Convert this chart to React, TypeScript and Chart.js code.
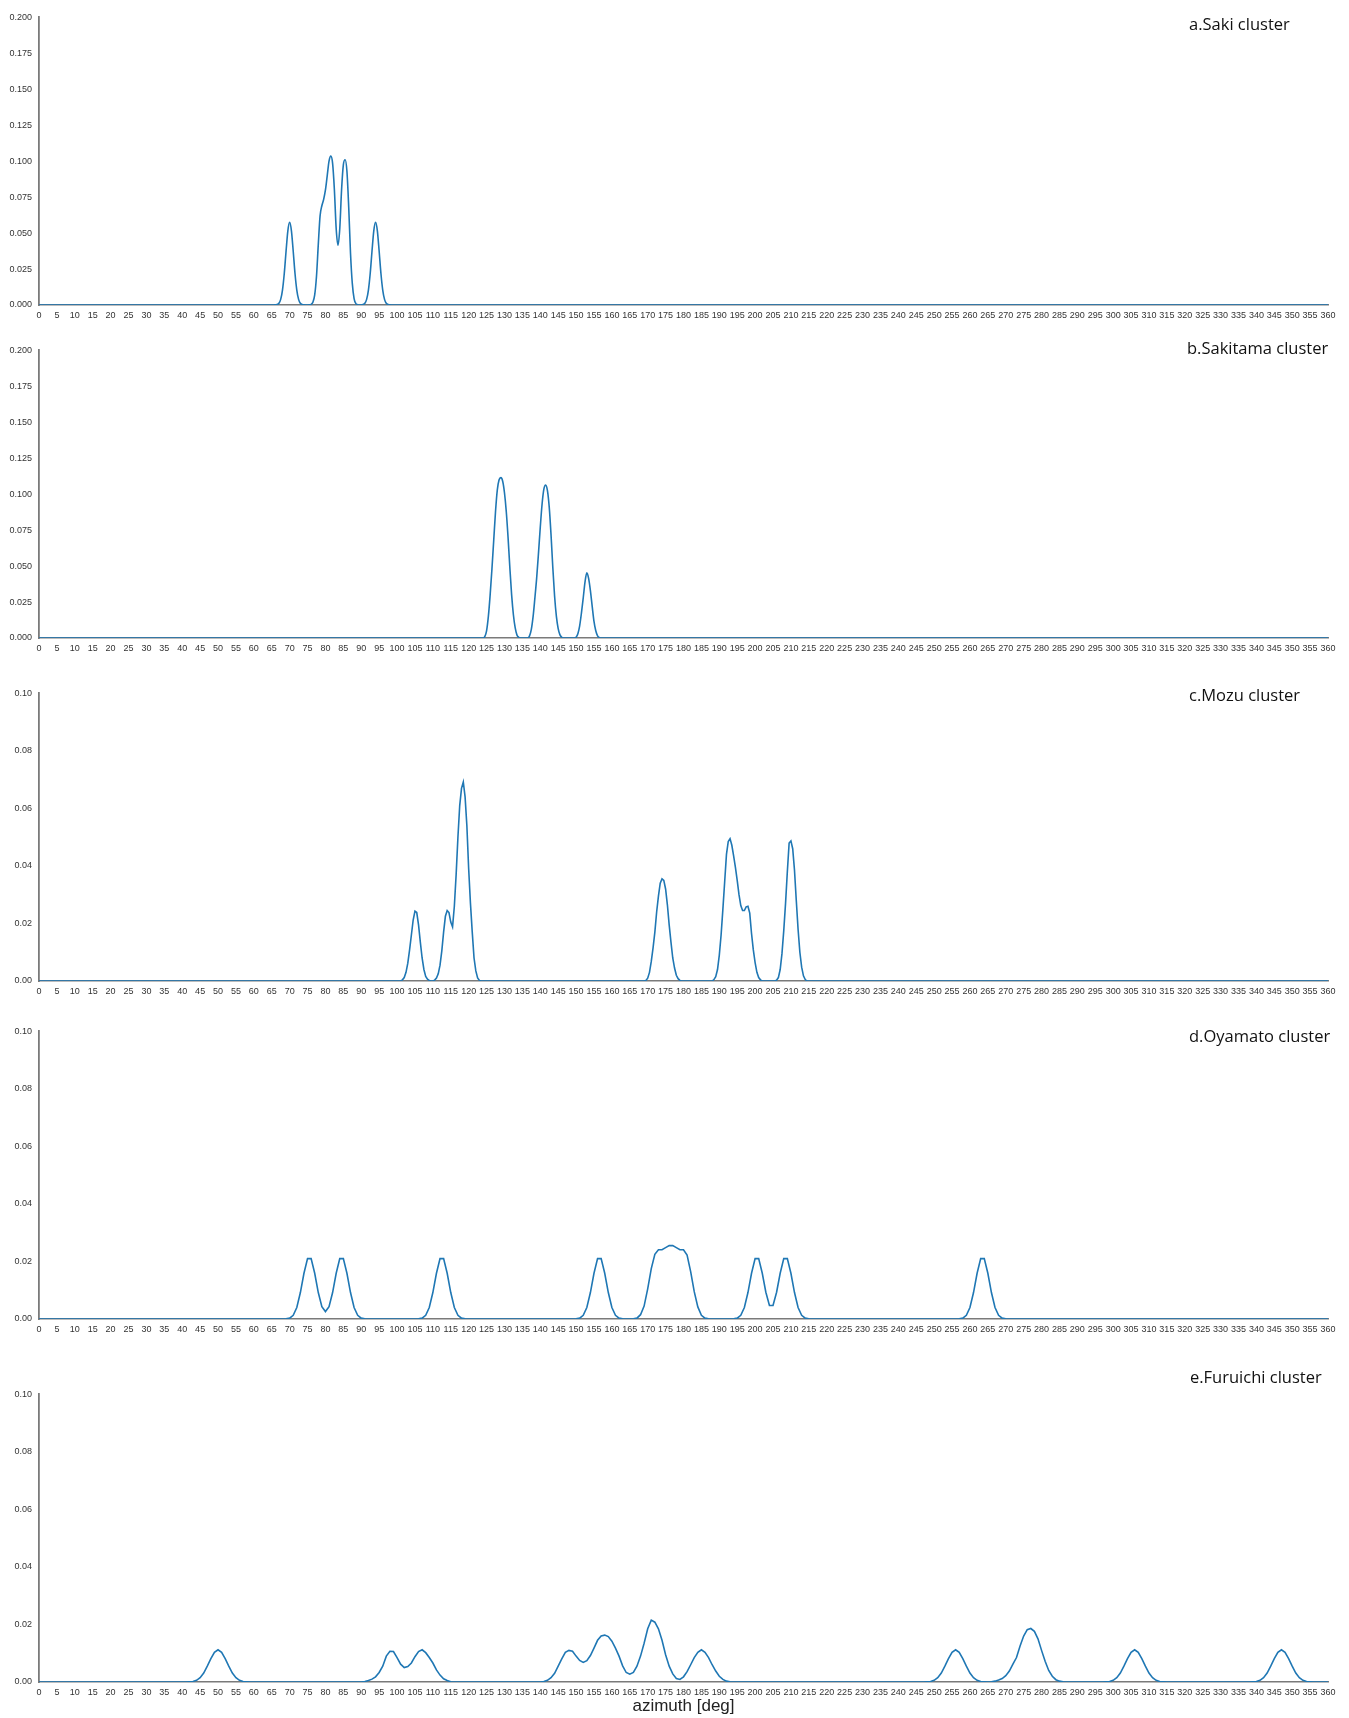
import { useEffect, useRef } from "react";
import { Chart, registerables } from "chart.js";

Chart.register(...registerables);

// ---------- data (azimuth in degrees, density values) ----------
const X_MIN = 0;
const X_MAX = 360;
const X_TICK_STEP = 5;

// a. Saki cluster (sampled every 0.5 deg)
const sakiStep = 0.5;
const sakiStarts = [65.5, 75, 90];
const sakiSeg1 = [0, 0.0001, 0.0003, 0.0012, 0.0039, 0.0104, 0.0219, 0.0374, 0.0516, 0.0575, 0.0516, 0.0374, 0.0219, 0.0104, 0.0039, 0.0012, 0.0003, 0.0001, 0];
const sakiSeg2 = [0, 0.0001, 0.0005, 0.002, 0.007, 0.02, 0.042, 0.062, 0.069, 0.0735, 0.08, 0.09, 0.1, 0.1035, 0.0985, 0.08, 0.053, 0.0415, 0.053, 0.08, 0.0975, 0.101, 0.093, 0.068, 0.036, 0.015, 0.0045, 0.001, 0.0002, 0];
const sakiSeg3 = [0.0001, 0.0003, 0.0012, 0.0039, 0.0104, 0.0219, 0.0374, 0.0516, 0.0575, 0.0516, 0.0374, 0.0219, 0.0104, 0.0039, 0.0012, 0.0003, 0.0001, 0];

// b. Sakitama cluster (0.5 deg)
const sakitamaStep = 0.5;
const sakitamaStarts = [124, 136.5, 149.5];
const sakitamaSeg1 = [0, 0.001, 0.005, 0.015, 0.03, 0.048, 0.068, 0.088, 0.103, 0.11, 0.1115, 0.109, 0.101, 0.088, 0.07, 0.049, 0.03, 0.016, 0.007, 0.002, 0.0005, 0];
const sakitamaSeg2 = [0, 0.0015, 0.006, 0.015, 0.028, 0.042, 0.059, 0.077, 0.093, 0.1035, 0.1063, 0.1025, 0.091, 0.072, 0.049, 0.029, 0.015, 0.0065, 0.0022, 0.0005, 0];
const sakitamaSeg3 = [0, 0.0006, 0.003, 0.0085, 0.0175, 0.028, 0.039, 0.0453, 0.0415, 0.033, 0.022, 0.0115, 0.005, 0.0015, 0.0003, 0];

// c. Mozu cluster (0.5 deg)
const mozuStep = 0.5;
const mozuStarts = [101, 110, 169, 188, 205.5];
const mozuSeg1 = [0, 0.0004, 0.0012, 0.003, 0.0062, 0.0108, 0.016, 0.0212, 0.0243, 0.0238, 0.0195, 0.0135, 0.008, 0.004, 0.0016, 0.0006, 0.0002, 0];
const mozuSeg2 = [0, 0.0003, 0.001, 0.0025, 0.0055, 0.0105, 0.017, 0.0225, 0.0245, 0.0238, 0.0205, 0.0188, 0.026, 0.037, 0.05, 0.061, 0.067, 0.0692, 0.064, 0.054, 0.039, 0.027, 0.017, 0.008, 0.0035, 0.0011, 0.0002, 0];
const mozuSeg3 = [0, 0.0002, 0.001, 0.003, 0.0068, 0.0115, 0.017, 0.024, 0.0295, 0.034, 0.0355, 0.035, 0.032, 0.0265, 0.0195, 0.0135, 0.008, 0.0045, 0.002, 0.0008, 0.0002, 0];
const mozuSeg4 = [0, 0.0005, 0.0015, 0.004, 0.009, 0.016, 0.025, 0.0345, 0.044, 0.0485, 0.0495, 0.0472, 0.0435, 0.0395, 0.035, 0.03, 0.0262, 0.0245, 0.0245, 0.0258, 0.026, 0.0236, 0.0165, 0.0108, 0.0064, 0.003, 0.0012, 0.0004, 0];
const mozuSeg5 = [0, 0.0003, 0.0012, 0.004, 0.0095, 0.0175, 0.027, 0.038, 0.048, 0.0487, 0.046, 0.0385, 0.028, 0.018, 0.01, 0.0048, 0.0018, 0.0005, 0];

// d. Oyamato cluster (1 deg)
const oyamatoStep = 1;
const oyamatoStarts = [68, 105, 149, 165, 193, 256];
const oyamatoSeg1 = [0, 0.0001, 0.0003, 0.0013, 0.004, 0.0092, 0.0159, 0.021, 0.021, 0.0159, 0.0092, 0.0043, 0.0026, 0.0043, 0.0092, 0.0159, 0.021, 0.021, 0.0159, 0.0092, 0.004, 0.0013, 0.0003, 0.0001, 0];
const oyamatoSeg2 = [0, 0.0001, 0.0003, 0.0013, 0.004, 0.0092, 0.0159, 0.021, 0.021, 0.0159, 0.0092, 0.004, 0.0013, 0.0003, 0.0001, 0];
const oyamatoSeg3 = [0, 0.0001, 0.0003, 0.0013, 0.004, 0.0092, 0.0159, 0.021, 0.021, 0.0159, 0.0092, 0.004, 0.0013, 0.0003, 0.0001, 0];
const oyamatoSeg4 = [0, 0.0001, 0.0003, 0.0015, 0.0045, 0.0105, 0.0175, 0.0225, 0.0241, 0.0241, 0.0248, 0.0255, 0.0255, 0.0248, 0.0241, 0.0241, 0.0222, 0.0165, 0.0095, 0.0042, 0.0013, 0.0003, 0.0001, 0];
const oyamatoSeg5 = [0, 0.0001, 0.0003, 0.0013, 0.004, 0.0092, 0.0159, 0.021, 0.021, 0.0159, 0.0093, 0.0047, 0.0047, 0.0093, 0.0159, 0.021, 0.021, 0.0159, 0.0092, 0.004, 0.0013, 0.0003, 0.0001, 0];
const oyamatoSeg6 = [0, 0.0001, 0.0003, 0.0013, 0.004, 0.0092, 0.0159, 0.021, 0.021, 0.0159, 0.0092, 0.004, 0.0013, 0.0003, 0.0001, 0];

// e. Furuichi cluster (1 deg)
const furuichiStep = 1;
const furuichiStarts = [41, 90, 140, 247, 265, 297, 338];
const furuichiSeg1 = [0, 0.0001, 0.0002, 0.0006, 0.0015, 0.0031, 0.0055, 0.0081, 0.0103, 0.0112, 0.0103, 0.0081, 0.0055, 0.0031, 0.0015, 0.0006, 0.0002, 0.0001, 0];
const furuichiSeg2 = [0, 0.0002, 0.0005, 0.001, 0.0018, 0.0033, 0.0055, 0.009, 0.0107, 0.0106, 0.0085, 0.0062, 0.005, 0.0054, 0.0066, 0.0088, 0.0106, 0.0112, 0.0102, 0.0085, 0.0066, 0.0042, 0.0024, 0.0011, 0.0005, 0.0001, 0];
const furuichiSeg3 = [0, 0.0002, 0.0006, 0.0015, 0.003, 0.0055, 0.008, 0.0103, 0.011, 0.0107, 0.009, 0.0075, 0.0068, 0.0074, 0.0092, 0.0118, 0.0145, 0.016, 0.0163, 0.0158, 0.0142, 0.0118, 0.009, 0.0056, 0.0033, 0.0027, 0.0033, 0.0055, 0.009, 0.0135, 0.0185, 0.0215, 0.0208, 0.0185, 0.0145, 0.0095, 0.0055, 0.0028, 0.0012, 0.0009, 0.0018, 0.0036, 0.006, 0.0085, 0.0103, 0.0112, 0.0103, 0.0085, 0.006, 0.0038, 0.002, 0.0009, 0.0003, 0.0001, 0];
const furuichiSeg4 = [0, 0.0001, 0.0002, 0.0006, 0.0015, 0.0031, 0.0055, 0.0081, 0.0103, 0.0112, 0.0103, 0.0081, 0.0055, 0.0031, 0.0015, 0.0006, 0.0002, 0.0001];
const furuichiSeg5 = [0, 0.0001, 0.0003, 0.0007, 0.0012, 0.0022, 0.0038, 0.0062, 0.0085, 0.0125, 0.016, 0.0182, 0.0186, 0.0176, 0.015, 0.011, 0.0072, 0.004, 0.002, 0.0008, 0.0003, 0.0001, 0];
const furuichiSeg6 = [0, 0.0001, 0.0002, 0.0006, 0.0015, 0.0031, 0.0055, 0.0081, 0.0103, 0.0112, 0.0103, 0.0081, 0.0055, 0.0031, 0.0015, 0.0006, 0.0002, 0.0001, 0];
const furuichiSeg7 = [0, 0.0001, 0.0002, 0.0006, 0.0015, 0.0031, 0.0055, 0.0081, 0.0103, 0.0112, 0.0103, 0.0081, 0.0055, 0.0031, 0.0015, 0.0006, 0.0002, 0.0001, 0];

const panelTitles = ["a.Saki cluster", "b.Sakitama cluster", "c.Mozu cluster", "d.Oyamato cluster", "e.Furuichi cluster"];
const yMaxima = [0.2, 0.2, 0.1, 0.1, 0.1];
const yTickSteps = [0.025, 0.025, 0.02, 0.02, 0.02];
const yTickDecimals = [3, 3, 2, 2, 2];
const xAxisTitle = "azimuth [deg]";

// ---------- layout ----------
const PAGE_W = 1349;
const PAGE_H = 1718;
const AREA_LEFT = 39;
const AREA_RIGHT = 1328;
const AREA_H = 290;
const PAD_TOP = 10;
const panelAreaTops = [15, 348, 691, 1029, 1392];
const titleLefts = [1189, 1187, 1189, 1189, 1190];
const titleBaselines = [30.5, 354.5, 701.5, 1042.5, 1383.5];
const TITLE_SIZE = 16.5;
const TICK_FONT = "'Liberation Sans', Arial, Helvetica, sans-serif";
const LINE_COLOR = "#1f77b4";
const AXIS_COLOR = "#7a7a7a";

type Pt = { x: number; y: number };

function buildPoints(starts: number[], segs: number[][], step: number): Pt[] {
  const pts: Pt[] = [{ x: X_MIN, y: 0 }];
  segs.forEach((seg, i) => {
    seg.forEach((v, j) => pts.push({ x: starts[i] + j * step, y: v }));
  });
  pts.push({ x: X_MAX, y: 0 });
  return pts;
}

const panelPoints: Pt[][] = [
  buildPoints(sakiStarts, [sakiSeg1, sakiSeg2, sakiSeg3], sakiStep),
  buildPoints(sakitamaStarts, [sakitamaSeg1, sakitamaSeg2, sakitamaSeg3], sakitamaStep),
  buildPoints(mozuStarts, [mozuSeg1, mozuSeg2, mozuSeg3, mozuSeg4, mozuSeg5], mozuStep),
  buildPoints(oyamatoStarts, [oyamatoSeg1, oyamatoSeg2, oyamatoSeg3, oyamatoSeg4, oyamatoSeg5, oyamatoSeg6], oyamatoStep),
  buildPoints(furuichiStarts, [furuichiSeg1, furuichiSeg2, furuichiSeg3, furuichiSeg4, furuichiSeg5, furuichiSeg6, furuichiSeg7], furuichiStep),
];
const panelSmooth = [true, true, false, false, false];

function Panel({ index }: { index: number }) {
  const ref = useRef<HTMLCanvasElement | null>(null);
  const isLast = index === panelTitles.length - 1;
  const xAxisH = isLast ? 36 : 25;
  const canvasH = PAD_TOP + AREA_H + xAxisH;
  const canvasTop = panelAreaTops[index] - PAD_TOP;

  useEffect(() => {
    if (!ref.current) return;
    const smooth = panelSmooth[index];
    const dec = yTickDecimals[index];
    const chart = new Chart(ref.current, {
      type: "line",
      data: {
        datasets: [
          {
            data: panelPoints[index],
            borderColor: LINE_COLOR,
            borderWidth: 1.6,
            pointRadius: 0,
            pointHoverRadius: 0,
            fill: false,
            tension: smooth ? 0.4 : 0,
            cubicInterpolationMode: smooth ? "monotone" : "default",
          } as any,
        ],
      },
      options: {
        responsive: false,
        animation: false,
        devicePixelRatio: 1,
        events: [],
        layout: { padding: { left: 0, right: PAGE_W - AREA_RIGHT, top: PAD_TOP, bottom: 0 } },
        plugins: {
          legend: { display: false },
          tooltip: { enabled: false },
          title: { display: false },
        },
        scales: {
          x: {
            type: "linear",
            min: X_MIN,
            max: X_MAX,
            grid: { display: false, drawTicks: false },
            border: { display: true, color: AXIS_COLOR, width: 1.5 },
            ticks: {
              stepSize: X_TICK_STEP,
              autoSkip: false,
              maxRotation: 0,
              minRotation: 0,
              maxTicksLimit: 1000,
              padding: 5,
              color: "#333",
              font: { family: TICK_FONT, size: 9 },
              callback: (v: any) => String(v),
            },
            title: {
              display: isLast,
              text: xAxisTitle,
              color: "#222",
              font: { family: TICK_FONT, size: 17 },
              padding: { top: 0, bottom: 1 },
            },
            afterFit: (s: any) => {
              s.height = xAxisH;
            },
          },
          y: {
            type: "linear",
            min: 0,
            max: yMaxima[index],
            grid: { display: false, drawTicks: false },
            border: { display: true, color: AXIS_COLOR, width: 1.8 },
            ticks: {
              stepSize: yTickSteps[index],
              padding: 7,
              color: "#333",
              font: { family: TICK_FONT, size: 9 },
              callback: (v: any) => Number(v).toFixed(dec),
            },
            afterFit: (s: any) => {
              s.width = AREA_LEFT;
            },
          },
        },
      } as any,
    });
    return () => chart.destroy();
  }, [index]);

  return (
    <canvas
      ref={ref}
      width={PAGE_W}
      height={canvasH}
      style={{ position: "absolute", left: 0, top: canvasTop, width: PAGE_W, height: canvasH }}
    />
  );
}

export default function App() {
  return (
    <div
      style={{
        position: "absolute",
        left: 0,
        top: 0,
        width: PAGE_W,
        height: PAGE_H,
        background: "#ffffff",
        overflow: "hidden",
      }}
    >
      {panelTitles.map((_, i) => (
        <Panel key={"p" + i} index={i} />
      ))}
      {panelTitles.map((t, i) => (
        <div
          key={"t" + i}
          style={{
            position: "absolute",
            left: titleLefts[i],
            top: titleBaselines[i] - TITLE_SIZE * 0.888,
            fontFamily: "'Open Sans', 'Noto Sans', sans-serif",
            fontSize: TITLE_SIZE,
            lineHeight: TITLE_SIZE + "px",
            color: "#111",
            whiteSpace: "nowrap",
          }}
        >
          {t}
        </div>
      ))}
    </div>
  );
}
